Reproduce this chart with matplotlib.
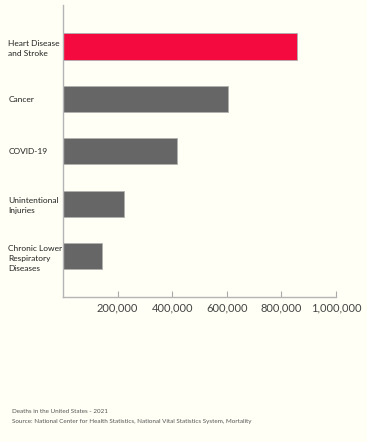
import matplotlib.pyplot as plt
from matplotlib.ticker import FuncFormatter

causes = ['Heart Disease\nand Stroke', 'Cancer', 'COVID-19',
          'Unintentional\nInjuries', 'Chronic Lower\nRespiratory\nDiseases']
deaths = [857000, 605213, 416893, 224935, 142342]
colors = ['#f50a40', '#666666', '#666666', '#666666', '#666666']
xticks = [200000, 400000, 600000, 800000, 1000000]

bg = '#fffff5'
plt.rcParams['font.family'] = ['Lato', 'DejaVu Sans']


def main():
    fig = plt.figure(figsize=(3.67, 4.42), dpi=100, facecolor=bg)
    ax = fig.add_axes([0.1717, 0.328, 0.7439, 0.6606], facecolor=bg)

    ypos = list(range(len(causes)))
    ax.barh(ypos, deaths, height=0.5, color=colors,
            edgecolor='#b0b0b0', linewidth=0.6)
    ax.set_ylim(len(causes) - 0.22, -0.79)
    ax.set_xlim(0, 1000000)

    ax.set_yticks(ypos)
    ax.set_yticklabels(causes, fontsize=6, color='#222222', ha='left',
                       linespacing=1.5)
    ax.tick_params(axis='y', length=0, pad=39.5)

    ax.set_xticks(xticks)
    ax.xaxis.set_major_formatter(FuncFormatter(lambda v, p: f'{int(v):,}'))
    ax.tick_params(axis='x', direction='in', length=4.5, width=0.8,
                   color='#aaaaaa', labelsize=8, labelcolor='#444444', pad=4)

    for s in ['top', 'right']:
        ax.spines[s].set_visible(False)
    for s in ['left', 'bottom']:
        ax.spines[s].set_color('#b5b5b5')
        ax.spines[s].set_linewidth(1.0)

    fig.text(0.033, 0.07, 'Deaths in the United States - 2021',
             fontsize=4.5, color='#555555', va='center')
    fig.text(0.033, 0.047,
             'Source: National Center for Health Statistics, '
             'National Vital Statistics System, Mortality',
             fontsize=4.5, color='#555555', va='center')

    plt.savefig('out.png', dpi=100, facecolor=bg)


if __name__ == '__main__':
    main()
